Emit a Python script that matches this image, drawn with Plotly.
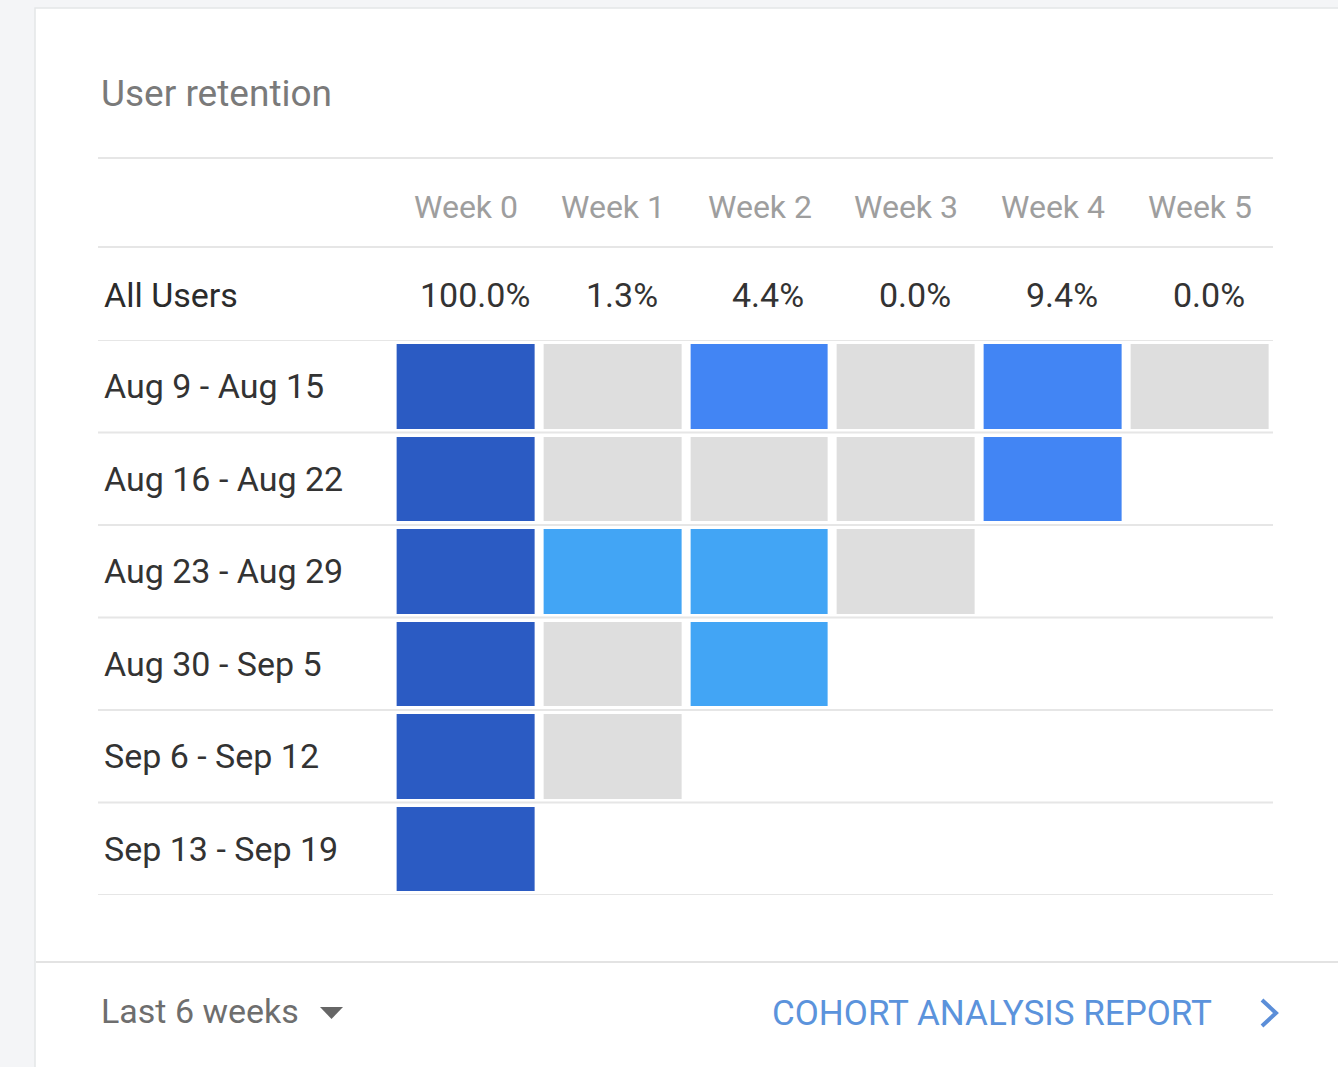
import plotly.graph_objects as go

W, H = 1338, 1067

weeks = ["Week 0", "Week 1", "Week 2", "Week 3", "Week 4", "Week 5"]
all_users = ["100.0%", "1.3%", "4.4%", "0.0%", "9.4%", "0.0%"]
cohorts = ["Aug 9 - Aug 15", "Aug 16 - Aug 22", "Aug 23 - Aug 29",
           "Aug 30 - Sep 5", "Sep 6 - Sep 12", "Sep 13 - Sep 19"]
# retention (%) per cohort, week 0..5 (None = not yet available)
retention = [
    [100.0, 0.0, 8.0, 0.0, 9.1, 0.0],
    [100.0, 0.0, 0.0, 0.0, 9.7, None],
    [100.0, 5.6, 4.8, 0.0, None, None],
    [100.0, 0.0, 3.9, None, None, None],
    [100.0, 0.0, None, None, None, None],
    [100.0, None, None, None, None, None],
]

GRAY = "#dedede"
LIGHT = "#42a5f5"
MED = "#4285f4"
DARK = "#2b5bc3"
colorscale = [
    [0.0, GRAY], [0.02, GRAY],
    [0.02, LIGHT], [0.065, LIGHT],
    [0.065, MED], [0.5, MED],
    [0.5, DARK], [1.0, DARK],
]

def px(x):
    return x / W

def py(y):
    return 1 - y / H

x_left, x_right = 392.6, 1273.4
y_top, y_bot = 340, 895

fig = go.Figure()
fig.add_trace(go.Heatmap(
    z=retention,
    x=list(range(len(weeks))),
    y=list(range(len(cohorts))),
    colorscale=colorscale, zmin=0, zmax=100,
    showscale=False, xgap=9, ygap=8, hoverinfo="skip",
))

FONT = "Roboto"
shapes = []
annotations = []

# card
shapes.append(dict(type="rect", xref="paper", yref="paper",
                   x0=px(35), x1=px(1345), y0=py(8), y1=py(1075),
                   fillcolor="white", line=dict(color="#e4e6e8", width=1.5),
                   layer="below"))
# footer separator
shapes.append(dict(type="line", xref="paper", yref="paper",
                   x0=px(36), x1=1.0, y0=py(962), y1=py(962),
                   line=dict(color="#e3e3e3", width=2)))
# header lines
for yy in (158, 247):
    shapes.append(dict(type="line", xref="paper", yref="paper",
                       x0=px(98), x1=px(1273), y0=py(yy), y1=py(yy),
                       line=dict(color="#e6e6e6", width=2)))
# row boundary lines
for i in range(len(cohorts) + 1):
    shapes.append(dict(type="line", xref="paper", yref="y",
                       x0=px(98), x1=px(1273), y0=i - 0.5, y1=i - 0.5,
                       line=dict(color="#e6e6e6", width=2), layer="below"))

# title
annotations.append(dict(text="User retention", xref="paper", yref="paper",
                        x=px(99), y=py(94), xanchor="left", yanchor="middle",
                        showarrow=False,
                        font=dict(family=FONT, size=37, color="#7a7a7a")))
# week headers
for i, w in enumerate(weeks):
    annotations.append(dict(text=w, xref="x", yref="paper", x=i, y=py(207),
                            xanchor="center", yanchor="middle", showarrow=False,
                            font=dict(family=FONT, size=32, color="#9e9e9e")))
# All users row
annotations.append(dict(text="All Users", xref="paper", yref="paper",
                        x=px(102), y=py(295), xanchor="left", yanchor="middle",
                        showarrow=False,
                        font=dict(family=FONT, size=34, color="#2b2b2b")))
for i, v in enumerate(all_users):
    annotations.append(dict(text=v, xref="x", yref="paper", x=i + 0.06, y=py(295),
                            xanchor="center", yanchor="middle", showarrow=False,
                            font=dict(family=FONT, size=34, color="#333333")))
# cohort labels
for j, c in enumerate(cohorts):
    annotations.append(dict(text=c, xref="paper", yref="y", x=px(102), y=j,
                            xanchor="left", yanchor="middle", showarrow=False,
                            font=dict(family=FONT, size=34, color="#333333")))
# footer
annotations.append(dict(text="Last 6 weeks", xref="paper", yref="paper",
                        x=px(99), y=py(1011), xanchor="left", yanchor="middle",
                        showarrow=False,
                        font=dict(family=FONT, size=34, color="#6e6e6e")))
annotations.append(dict(text="COHORT ANALYSIS REPORT", xref="paper", yref="paper",
                        x=px(1214), y=py(1013), xanchor="right", yanchor="middle",
                        showarrow=False,
                        font=dict(family=FONT, size=35, color="#5b93dc")))
# dropdown triangle
shapes.append(dict(type="path", xref="paper", yref="paper",
                   path=f"M {px(320)} {py(1007)} L {px(343)} {py(1007)} L {px(331.5)} {py(1019)} Z",
                   fillcolor="#666666", line=dict(width=0)))
# chevron
shapes.append(dict(type="path", xref="paper", yref="paper",
                   path=f"M {px(1262)} {py(1000)} L {px(1276)} {py(1013)} L {px(1262)} {py(1026)}",
                   line=dict(color="#5b8ed8", width=4)))

fig.update_layout(
    width=W, height=H,
    margin=dict(l=0, r=0, t=0, b=0),
    paper_bgcolor="#f4f5f7", plot_bgcolor="rgba(0,0,0,0)",
    xaxis=dict(domain=[px(x_left), px(x_right)], range=[-0.5, 5.5],
               showgrid=False, zeroline=False, showticklabels=False, fixedrange=True),
    yaxis=dict(domain=[py(y_bot), py(y_top)], range=[5.5, -0.5],
               showgrid=False, zeroline=False, showticklabels=False, fixedrange=True),
    shapes=shapes, annotations=annotations,
    showlegend=False,
)

fig.write_html(
    "out.html",
    config={"displayModeBar": False},
    post_script="document.body.style.margin='0';document.body.style.background='#f4f5f7';",
)
